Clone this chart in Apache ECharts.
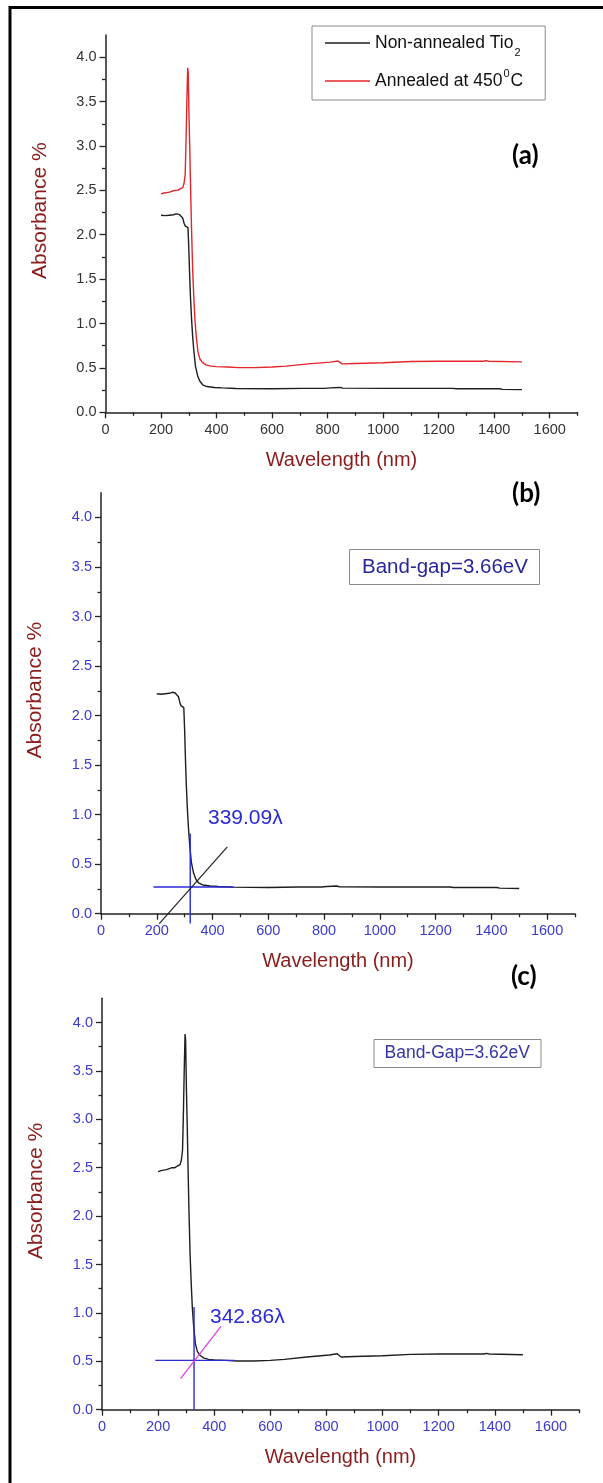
<!DOCTYPE html>
<html><head><meta charset="utf-8">
<script src="https://cdn.jsdelivr.net/npm/echarts@6/dist/echarts.min.js"></script>
<style>html,body{margin:0;padding:0;background:#fff}#c{width:603px;height:1483px}</style>
</head><body><div id="c"></div>
<script>
// ---- data ----
const wavelengthNA = [200,215,230,245,255,265,272,278,283,287,294,297,300,303,306,310,314,318,324,332,340,350,365,392,420,470,600,710,790,810,845,855,1000,1250,1265,1420,1430,1500];
const absorbanceNA = [2.22,2.215,2.22,2.225,2.235,2.23,2.22,2.19,2.13,2.1,2.1,2.08,1.85,1.55,1.3,1.05,0.85,0.7,0.52,0.41,0.35,0.31,0.29,0.28,0.275,0.268,0.265,0.27,0.27,0.275,0.28,0.272,0.27,0.27,0.265,0.265,0.258,0.255];
const wavelengthAN = [200,210,220,230,240,250,260,270,278,283,287,290,293,296,298,301,304,307,310,314,318,322,327,333,340,350,362,380,400,440,480,540,600,650,730,810,838,845,852,900,1000,1100,1200,1360,1370,1380,1500];
const absorbanceAN = [2.46,2.47,2.475,2.48,2.49,2.5,2.5,2.52,2.53,2.58,2.68,3.05,3.5,3.88,3.82,3.3,2.9,2.45,2.05,1.6,1.3,1.05,0.85,0.68,0.6,0.56,0.535,0.52,0.515,0.51,0.503,0.503,0.51,0.52,0.545,0.565,0.578,0.58,0.545,0.55,0.558,0.572,0.575,0.575,0.582,0.575,0.568];
const xTicks = [0,200,400,600,800,1000,1200,1400,1600];
const xMinorTicks = [100,300,500,700,900,1100,1300,1500,1700];
const yTicks = [0,0.5,1,1.5,2,2.5,3,3.5,4];
const yMinorTicks = [0.25,0.75,1.25,1.75,2.25,2.75,3.25,3.75];
// band-gap construction lines, panel (b)
const bBaseX = [188,476], bBaseY = [0.27,0.27];
const bEdgeX = [320,320], bEdgeY = [-0.1,0.81];
const bTanX = [209,453], bTanY = [-0.1,0.675];
// band-gap construction lines, panel (c)
const cBaseX = [190,473], cBaseY = [0.51,0.51];
const cEdgeX = [328,328], cEdgeY = [0,1.06];
const cTanX = [280,424], cTanY = [0.32,0.86];
const seriesNames = ['Non-annealed Tio2','Annealed at 450°C'];

const zip = (xs, ys) => xs.map((x,i)=>[x, ys[i]]);
const FONT = 'Liberation Sans, Arial, sans-serif';
const TITLE_RED = '#8b1c1c';
const grids = [
  {left:105.5, top:35, width:472, height:377.3},
  {left:101, top:492.7, width:474, height:421},
  {left:102, top:998.3, width:477, height:411.4}
];
const labelColors = ['#333333','#3a3acc','#3a3acc'];
const xAxes = [], yAxes = [];
grids.forEach((g,i)=>{
  xAxes.push({type:'value', gridIndex:i, position:'bottom', min:0, max:1700, interval:100,
    axisLine:{show:true, onZero:false, lineStyle:{color:'#222', width:1.5}},
    axisTick:{show:true, length:6, customValues:xTicks, lineStyle:{color:'#222', width:1.3}},
    axisLabel:{show:true, customValues:xTicks, formatter:v=>String(v), color:labelColors[i], fontSize:14.5, fontFamily:FONT, margin:10},
    splitLine:{show:false},
    name:'Wavelength (nm)', nameLocation:'middle', nameGap:38,
    nameTextStyle:{color:TITLE_RED, fontSize:20, fontFamily:FONT}});
  xAxes.push({type:'value', gridIndex:i, position:'bottom', min:0, max:1700, interval:100,
    axisLine:{show:false}, axisLabel:{show:false}, splitLine:{show:false},
    axisTick:{show:true, length:3.5, customValues:xMinorTicks, lineStyle:{color:'#222', width:1.3}}});
  yAxes.push({type:'value', gridIndex:i, position:'left', min:0, max:4.25, interval:0.25,
    axisLine:{show:true, onZero:false, lineStyle:{color:'#222', width:1.5}},
    axisTick:{show:true, length:6, customValues:yTicks, lineStyle:{color:'#222', width:1.3}},
    axisLabel:{show:true, customValues:yTicks, formatter:v=>v.toFixed(1), color:labelColors[i], fontSize:14.5, fontFamily:FONT, margin:9},
    splitLine:{show:false},
    name:'Absorbance %', nameLocation:'middle', nameGap:55, nameRotate:90,
    nameTextStyle:{color:TITLE_RED, fontSize:21, fontFamily:FONT, padding:[0,0,0,26]}});
  yAxes.push({type:'value', gridIndex:i, position:'left', min:0, max:4.25, interval:0.25,
    axisLine:{show:false}, axisLabel:{show:false}, splitLine:{show:false},
    axisTick:{show:true, length:3.5, customValues:yMinorTicks, lineStyle:{color:'#222', width:1.3}}});
});
const lineS = (name, p, data, color, w, extra) => Object.assign({
  type:'line', name, xAxisIndex:2*p, yAxisIndex:2*p, data, symbol:'none', showSymbol:false,
  lineStyle:{color, width:w}, itemStyle:{color}, silent:true, z:3
}, extra||{});
const BLUE = '#2a2ad6';
const series = [
  lineS(seriesNames[0], 0, zip(wavelengthNA, absorbanceNA), '#1e1e1e', 1.4),
  lineS(seriesNames[1], 0, zip(wavelengthAN, absorbanceAN), '#e3262b', 1.4),
  lineS('Non-annealed (b)', 1, zip(wavelengthNA, absorbanceNA), '#1e1e1e', 1.4),
  lineS('baseline (b)', 1, zip(bBaseX, bBaseY), BLUE, 1.4, {clip:false}),
  lineS('edge (b)', 1, zip(bEdgeX, bEdgeY), BLUE, 1.4, {clip:false}),
  lineS('tangent (b)', 1, zip(bTanX, bTanY), '#222', 1.2, {clip:false}),
  lineS('Annealed (c)', 2, zip(wavelengthAN, absorbanceAN), '#1e1e1e', 1.4),
  lineS('baseline (c)', 2, zip(cBaseX, cBaseY), BLUE, 1.4, {clip:false}),
  lineS('edge (c)', 2, zip(cEdgeX, cEdgeY), BLUE, 1.4, {clip:false}),
  lineS('tangent (c)', 2, zip(cTanX, cTanY), '#e040e0', 1.3, {clip:false})
];
const panelTitle = (t, left, top) => ({text:t, left, top, padding:0,
  textStyle:{fontFamily:'Lato, Open Sans, sans-serif', fontWeight:'bold', fontSize:26, lineHeight:26, color:'#000'}});
const option = {
  animation:false,
  backgroundColor:'#fff',
  grid: grids.map(g=>Object.assign({outerBoundsMode:'none', containLabel:false}, g)),
  xAxis: xAxes, yAxis: yAxes, series,
  legend:{data:seriesNames.map(n=>({name:n, icon:'rect'})), orient:'vertical', left:312, top:26, padding:[8,22,10,13],
    itemWidth:45, itemHeight:1.6, itemGap:10, borderColor:'#8a8a8a', borderWidth:1, selectedMode:false,
    formatter: n => n === seriesNames[0] ? '{t|Non-annealed Tio}{sub|2}' : '{t|Annealed at 450}{sup|0}{t|C}',
    textStyle:{fontFamily:FONT, color:'#111', rich:{
      t:{fontSize:17.5, lineHeight:22, fontFamily:FONT, color:'#111'},
      sub:{fontSize:11, lineHeight:10, verticalAlign:'bottom', padding:[0,0,-4,1], fontFamily:FONT, color:'#111'},
      sup:{fontSize:11, lineHeight:10, verticalAlign:'top', padding:[-2,1,0,1], fontFamily:FONT, color:'#111'}
    }}},
  title:[
    panelTitle('(a)', 512, 143),
    panelTitle('(b)', 512, 481),
    panelTitle('(c)', 511, 964),
    {text:'Band-gap=3.66eV', left:349, top:549, padding:[7,12,7,13], borderColor:'#8a8a8a', borderWidth:1,
      textStyle:{fontFamily:FONT, fontWeight:'normal', fontSize:20.5, lineHeight:22, color:'#27279a'}},
    {text:'Band-Gap=3.62eV', left:373.5, top:1039, padding:[5,11,5,11], borderColor:'#8a8a8a', borderWidth:1,
      textStyle:{fontFamily:FONT, fontWeight:'normal', fontSize:17.5, lineHeight:19, color:'#3434a8'}}
  ],
  graphic:[
    {type:'rect', shape:{x:10, y:7.5, width:800, height:1600}, style:{fill:'none', stroke:'#000', lineWidth:3}, silent:true},
    {type:'text', left:208, top:808, style:{text:'339.09λ', font:'21px '+FONT, fill:BLUE}},
    {type:'text', left:210, top:1307, style:{text:'342.86λ', font:'21px '+FONT, fill:BLUE}}
  ]
};
const chart = echarts.init(document.getElementById('c'), null, {renderer:'canvas'});
chart.setOption(option);
</script></body></html>
